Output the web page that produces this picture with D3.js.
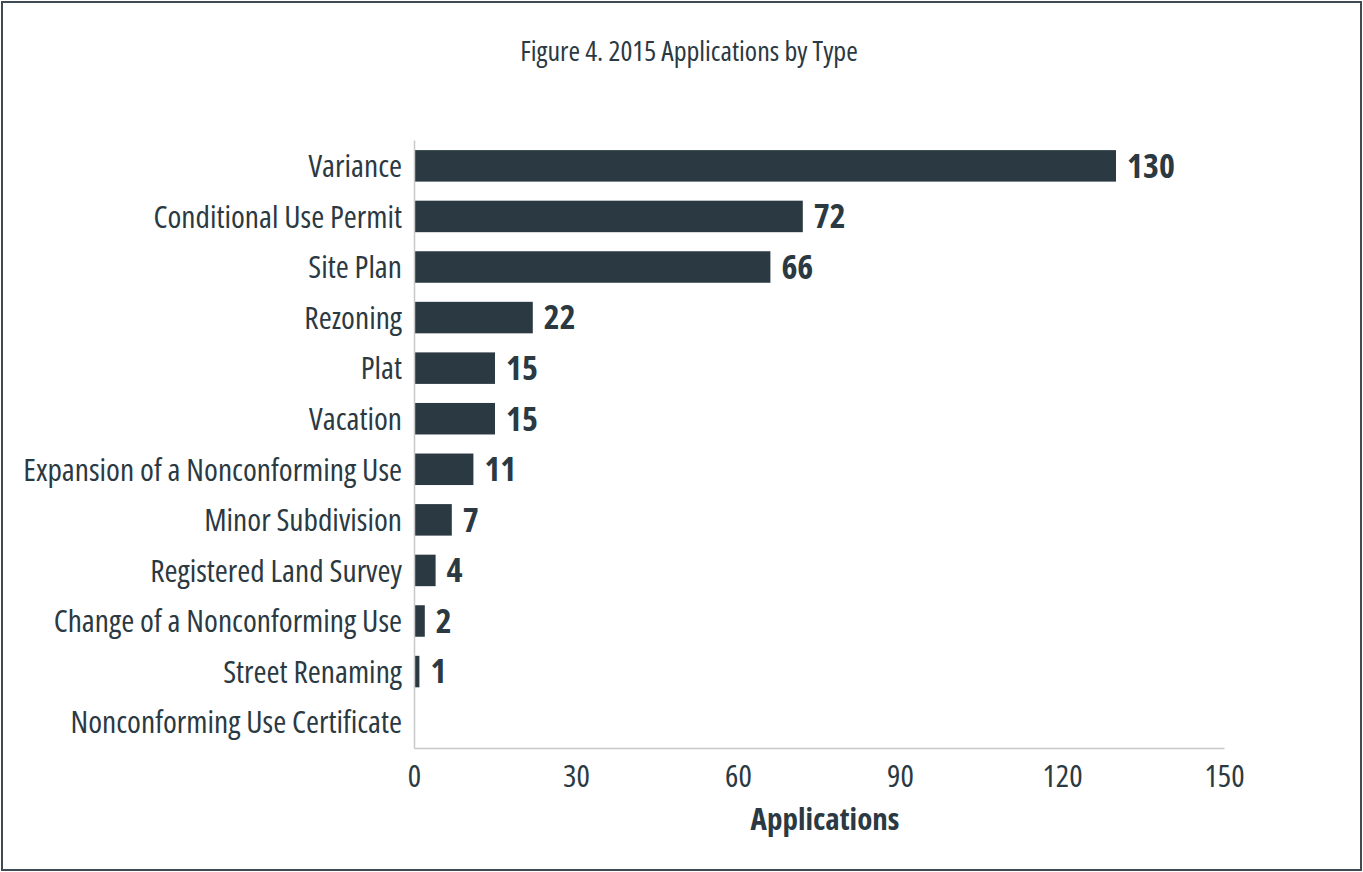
<!DOCTYPE html>
<html>
<head>
<meta charset="utf-8">
<script src="https://cdn.jsdelivr.net/npm/d3@7"></script>
<style>
  body { margin: 0; background: #fff; }
  svg { display: block; }
  text { font-family: "Open Sans", sans-serif; font-stretch: 75%; fill: #2b3942; }
</style>
</head>
<body>
<svg id="chart" width="1363" height="872"></svg>
<script>
// applications by type, 2015
const categories = ["Variance", "Conditional Use Permit", "Site Plan", "Rezoning", "Plat", "Vacation",
  "Expansion of a Nonconforming Use", "Minor Subdivision", "Registered Land Survey",
  "Change of a Nonconforming Use", "Street Renaming", "Nonconforming Use Certificate"];
const counts = [130, 72, 66, 22, 15, 15, 11, 7, 4, 2, 1, 0];
const xTicks = [0, 30, 60, 90, 120, 150];

const svg = d3.select("#chart");
const W = 1363, H = 872;
const margin = { top: 140, right: 139, bottom: 124, left: 414 };

svg.append("rect")
  .attr("x", 2).attr("y", 2)
  .attr("width", W - 4).attr("height", H - 4)
  .attr("fill", "none")
  .attr("stroke", "#3e4a54")
  .attr("stroke-width", 2);

svg.append("text")
  .attr("x", 689).attr("y", 61)
  .attr("text-anchor", "middle")
  .style("font-size", "28px")
  .text("Figure 4. 2015 Applications by Type");

const x = d3.scaleLinear()
  .domain([0, 150])
  .range([margin.left, W - margin.right]);

const y = d3.scaleBand()
  .domain(categories)
  .range([margin.top, H - margin.bottom])
  .paddingInner(0.377)
  .paddingOuter(0.2);

const data = categories.map((c, i) => ({ cat: c, val: counts[i] }));

// bars
svg.append("g")
  .selectAll("rect")
  .data(data)
  .enter()
  .append("rect")
  .attr("x", x(0))
  .attr("y", d => y(d.cat))
  .attr("width", d => x(d.val) - x(0))
  .attr("height", y.bandwidth())
  .attr("fill", "#2b3942");

// value labels
svg.append("g")
  .selectAll("text")
  .data(data.filter(d => d.val > 0))
  .enter()
  .append("text")
  .attr("x", d => x(d.val) + 11)
  .attr("y", d => y(d.cat) + y.bandwidth() / 2)
  .attr("dy", "0.35em")
  .style("font-size", "34px")
  .style("font-weight", "bold")
  .text(d => d.val);

// y axis
const yAxis = svg.append("g")
  .attr("transform", `translate(${x(0)},0)`)
  .call(d3.axisLeft(y).tickSize(0).tickPadding(12));
yAxis.select(".domain").attr("stroke", "#c8c8c8").attr("stroke-width", 1.5);
yAxis.selectAll("text")
  .attr("dy", "0.36em")
  .style("font-size", "31.5px")
  .attr("fill", "#2b3942");

// x axis
const xAxis = svg.append("g")
  .attr("transform", `translate(0,${H - margin.bottom})`)
  .call(d3.axisBottom(x).tickValues(xTicks).tickSize(0).tickPadding(0));
xAxis.select(".domain").attr("stroke", "#c8c8c8").attr("stroke-width", 1.5);
xAxis.selectAll("text")
  .attr("dy", null)
  .attr("y", 39)
  .style("font-size", "31.5px")
  .attr("fill", "#2b3942");

svg.append("text")
  .attr("x", (x(0) + x(150)) / 2 + 6)
  .attr("y", 830)
  .attr("text-anchor", "middle")
  .style("font-size", "31px")
  .style("font-weight", "bold")
  .text("Applications");
</script>
</body>
</html>
